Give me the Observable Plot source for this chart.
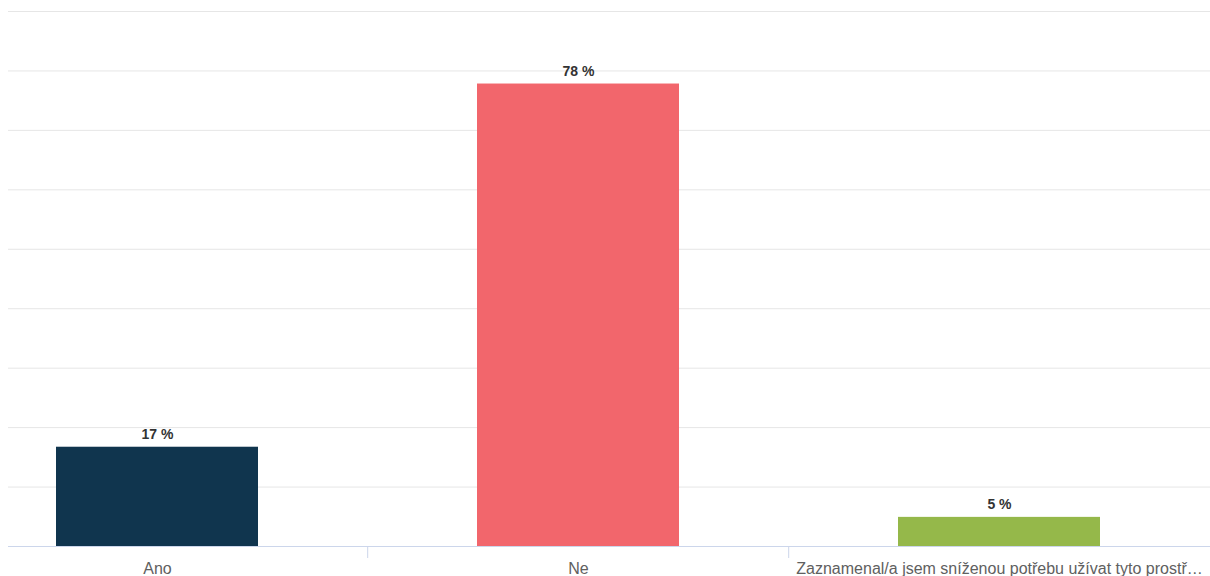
<!DOCTYPE html>
<html><head><meta charset="utf-8">
<script src="https://cdn.jsdelivr.net/npm/d3@7"></script>
<script src="https://cdn.jsdelivr.net/npm/@observablehq/plot@0.6"></script>
<style>html,body{margin:0;padding:0;background:#fff} svg{display:block}</style>
</head><body><div id="chart"></div>
<script>
const categories = ["Ano", "Ne", "Zaznamenal/a jsem sníženou potřebu užívat tyto prostř…"];
const values = [16.7, 77.8, 4.9];
const colors = ["#10354e", "#f2666c", "#95b84a"];
const yTicks = [10, 20, 30, 40, 50, 60, 70, 80, 90];

const data = categories.map((c, i) => ({category: c, value: values[i], color: colors[i]}));

const chart = Plot.plot({
  width: 1210, height: 576,
  marginTop: 11, marginBottom: 30, marginLeft: 8, marginRight: 0,
  style: {fontFamily: "'Liberation Sans', Arial, sans-serif", background: "#fff"},
  x: {domain: categories, range: [-54.5, 1210.5], paddingInner: 0.52, paddingOuter: 0.26, label: null, axis: null},
  y: {domain: [0, 90], axis: null},
  color: {type: "identity"},
  marks: [
    Plot.ruleY(yTicks, {stroke: "#e6e6e6"}),
    Plot.barY(data, {x: "category", y: "value", fill: "color"}),
    Plot.ruleY([0], {stroke: "#ccd6eb"}),
    Plot.ruleX(categories.slice(1), {x: d => d, y1: 0, y2: 0, dx: -210.8, insetBottom: -12, stroke: "#ccd6eb"}),
    Plot.text(data, {x: "category", y: "value", text: d => `${Math.round(d.value)} %`, dy: -8, lineAnchor: "bottom", fontWeight: "bold", fontSize: 14, fill: "#333"}),
    Plot.axisX({tickSize: 0, tickPadding: 16, fontSize: 16, color: "#606060", label: null})
  ]
});
document.getElementById("chart").appendChild(chart);
</script>
</body></html>
